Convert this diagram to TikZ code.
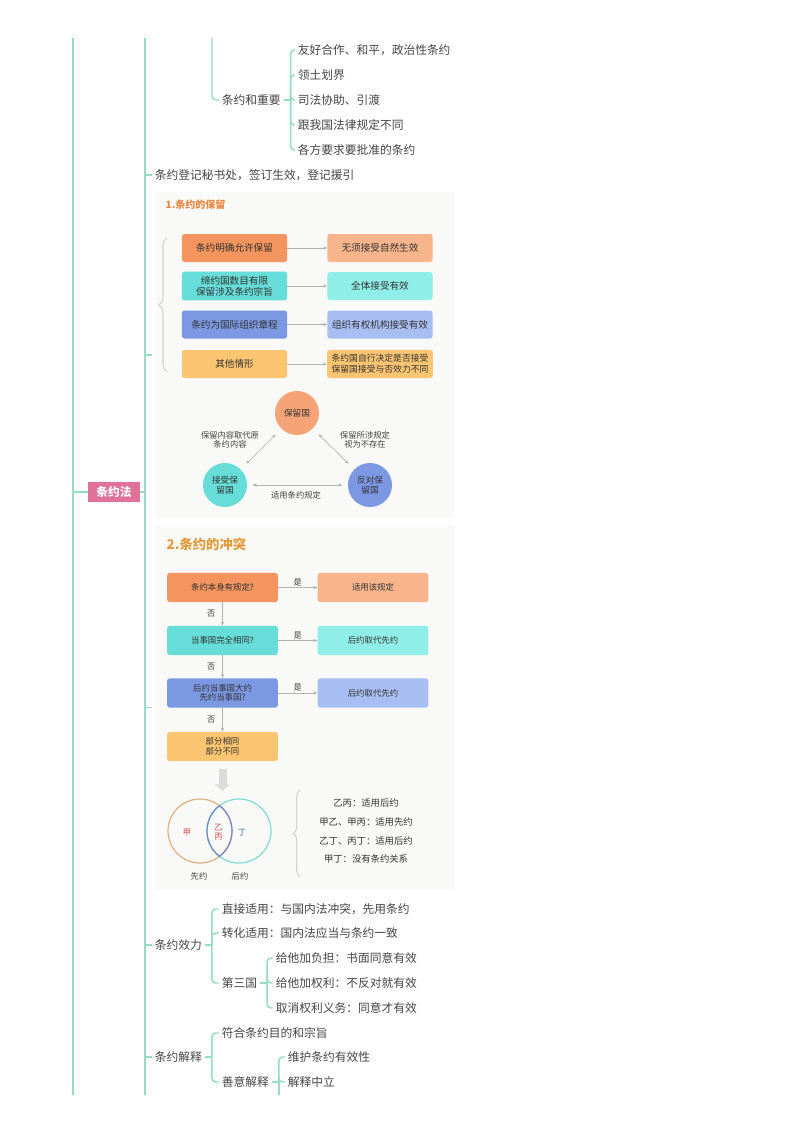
\documentclass[tikz,border=0pt]{standalone}
\usepackage{fontspec}
\setmainfont{Noto Sans CJK SC}
\usetikzlibrary{arrows.meta,positioning,calc,decorations.pathreplacing}

\definecolor{mline}{HTML}{94DCC2}
\definecolor{mtext}{HTML}{454545}
\definecolor{rootpink}{HTML}{E0729A}
\definecolor{orA}{HTML}{F4945F}
\definecolor{orB}{HTML}{F8B58C}
\definecolor{tlA}{HTML}{66DDD8}
\definecolor{tlB}{HTML}{90EEE8}
\definecolor{blA}{HTML}{7D98E2}
\definecolor{blB}{HTML}{A8BEF2}
\definecolor{ylA}{HTML}{FBC571}
\definecolor{picbg}{HTML}{F9F9F8}
\definecolor{ttlA}{HTML}{E8873F}
\definecolor{ttlB}{HTML}{E39A3B}
\definecolor{vnor}{HTML}{E2B07E}
\definecolor{vnte}{HTML}{7EDCD3}
\definecolor{vnbl}{HTML}{6F86C9}
\definecolor{vred}{HTML}{D24B4B}
\definecolor{vblue}{HTML}{3E6FB0}

\begin{document}
\begin{tikzpicture}[x=0.75pt, y=-0.75pt,
    every node/.style={text=mtext},
    link/.style={draw=mline, line width=1.1pt, rounded corners=3pt},
    topic/.style={anchor=west, inner xsep=2pt, inner ysep=1pt, font=\fontsize{8.8}{10}\selectfont},
    root/.style={fill=rootpink, text=white, minimum width=39pt, minimum height=15pt,
      font=\fontsize{8.8}{10}\selectfont\bfseries},
    box/.style={rounded corners=2pt, minimum width=79pt, minimum height=21pt, align=center,
      font=\fontsize{7.2}{8.2}\selectfont, text=black!80},
    fbox/.style={rounded corners=2pt, minimum width=83pt, minimum height=22pt, align=center,
      font=\fontsize{6.3}{7.2}\selectfont, text=black!80},
    ball/.style={circle, minimum size=33pt, inner sep=0pt, align=center,
      font=\fontsize{6.5}{7.4}\selectfont, text=black!80},
    small/.style={align=center, inner sep=1pt, font=\fontsize{6.2}{7.2}\selectfont, text=black!75},
    gar/.style={draw=black!30, line width=0.5pt, -{Stealth[length=3pt,width=2.5pt]}},
    biarr/.style={gar, {Stealth[length=3pt,width=2.5pt]}-{Stealth[length=3pt,width=2.5pt]}},
    curl/.style={draw=black!18, line width=0.8pt, decorate, decoration={brace, amplitude=#1}},
    curl/.default=6pt
  ]
    \fill[white] (0,0) rectangle (800,1132);
    \useasboundingbox (0,0) rectangle (800,1132);

    % trunk lines, cut at both ends
    \coordinate (axT) at (73,38);
    \coordinate (axB) at (73,1095);
    \coordinate (spT) at (145,38);
    \coordinate (spB) at (145,1095);
    \draw[link, line width=1.5pt] (axT) -- (axB);
    \draw[link, line width=1.4pt] (spT) -- (spB);

    \node[root] (law) at (114,492) {条约法};
    \draw[link] (axT |- law.west) -- (law.west);
    \draw[link] (law.east) -- (spT |- law.east);

    % important treaties
    \coordinate (upT) at (212,38);
    \node[topic] (imp) at (219,100) {条约和重要};
    \draw[link] (upT) |- (imp.west);
    \draw[link] (imp.east) -- ++(7,0) coordinate (impJ);
    \foreach \i/\y/\t in {1/50/友好合作、和平，政治性条约, 2/75/领土划界, 3/100/司法协助、引渡,
                          4/125/跟我国法律规定不同, 5/150/各方要求要批准的条约} {
      \node[topic] (imp\i) at (295,\y) {\t};
      \draw[link] (impJ) |- (imp\i.west);
    }

    \node[topic] (reg) at (152,175) {条约登记秘书处，签订生效，登记援引};
    \draw[link] (spT |- reg.west) -- (reg.west);

    % picture 1: reservations
    \node[fill=picbg, minimum width=225pt, minimum height=244.5pt, inner sep=0pt] (pic1) at (305,355) {};
    \draw[link, shorten >=2pt] (spT |- pic1.west) -- (pic1.west);
    \node[anchor=west, text=ttlA, font=\fontsize{7.5}{8}\selectfont\bfseries] (t1) at (161,205) {1.条约的保留};
    \draw[curl] (167,372) -- (167,238);
    \foreach \i/\y/\ca/\cb/\a/\b in {1/248/orA/orB/条约明确允许保留/无须接受自然生效,
        2/286/tlA/tlB/{缔约国数目有限\\保留涉及条约宗旨}/全体接受有效,
        3/324.5/blA/blB/条约为国际组织章程/组织有权机构接受有效,
        4/364/ylA/ylA/其他情形/{\fontsize{6.6}{7.6}\selectfont 条约国自行决定是否接受\\
          \fontsize{6.6}{7.6}\selectfont 保留国接受与否效力不同}} {
      \node[box, fill=\ca] (ra\i) at (234.5,\y) {\a};
      \node[box, fill=\cb] (rb\i) at (380,\y) {\b};
      \draw[gar] (ra\i) -- (rb\i);
    }

    \node[ball, fill=orA!85] (rs) at (297,413) {保留国};
    \node[ball, fill=tlA] (ac) at (225,485) {接受保\\留国};
    \node[ball, fill=blA] (ob) at (370,485) {反对保\\留国};
    \draw[biarr, shorten <=6pt, shorten >=6pt] (rs) -- (ac);
    \draw[biarr, shorten <=6pt, shorten >=6pt] (rs) -- (ob);
    \draw[biarr, shorten <=4pt, shorten >=4pt] (ac) -- (ob);
    \node[small] (l1) at (230,440) {保留内容取代原\\条约内容};
    \node[small] (l2) at (365,440) {保留所涉规定\\视为不存在};
    \node[small] (l3) at (296,495) {适用条约规定};

    % picture 2: conflicts
    \node[fill=picbg, minimum width=225pt, minimum height=273.75pt, inner sep=0pt] (pic2) at (305,707.5) {};
    \draw[link, shorten >=2pt] (spT |- pic2.west) -- (pic2.west);
    \node[anchor=west, text=ttlB, font=\fontsize{10}{11}\selectfont\bfseries] (t2) at (162,544) {2.条约的冲突};
    \foreach \i/\y/\c/\t in {1/587.5/orA/条约本身有规定?, 2/640.5/tlA/当事国完全相同?,
        3/693/blA/{后约当事国大约\\先约当事国?}, 4/746.5/ylA/{部分相同\\部分不同}} {
      \node[fbox, fill=\c] (q\i) at (222.5,\y) {\t};
    }
    \foreach \i/\y/\c/\t in {1/587.5/orB/适用该规定, 2/640.5/tlB/后约取代先约, 3/693/blB/后约取代先约} {
      \node[fbox, fill=\c] (a\i) at (373,\y) {\t};
      \draw[gar] (q\i) -- node[small, above] (y\i) {是} (a\i);
    }
    \foreach \i/\j in {1/2, 2/3, 3/4} {
      \draw[gar] (q\i) -- node[small, left=4pt] (n\i) {否} (q\j);
    }
    \coordinate (vn) at (222.5,791);
    \draw[draw=black!14, line width=6pt, shorten <=6pt, -{Triangle[length=5pt,width=11pt]}] (q4) -- (vn);

    \node[circle, draw=vnor, line width=0.9pt, minimum size=48pt] (vl) at (200,831) {};
    \node[circle, draw=vnte, line width=0.9pt, minimum size=48pt] (vr) at (239,831) {};
    \begin{scope}
      \clip (vr.center) circle[radius=24.4pt];
      \draw[vnbl, line width=0.9pt] (vl.center) circle[radius=24pt];
    \end{scope}
    \begin{scope}
      \clip (vl.center) circle[radius=24.4pt];
      \draw[vnbl, line width=0.9pt] (vr.center) circle[radius=24pt];
    \end{scope}
    \node[small, text=vred] (jia) at (187,833) {甲};
    \node[small, text=vred] (yb) at (218.5,832) {乙\\丙};
    \node[small, text=vblue] (ding) at (242,833) {丁};
    \node[small] (xy) at (199,876) {先约};
    \node[small] (hy) at (240,876) {后约};

    \draw[curl=5pt] (300,877) -- (300,790);
    \foreach \i/\y/\t in {1/803/乙丙：适用后约, 2/822/甲乙、甲丙：适用先约,
                          3/841/乙丁、丙丁：适用后约, 4/859/甲丁：没有条约关系} {
      \node[font=\fontsize{7}{8}\selectfont, text=black!80] (r\i) at (366,\y) {\t};
    }

    % effect
    \node[topic] (eff) at (152,945) {条约效力};
    \draw[link] (spT |- eff.west) -- (eff.west);
    \draw[link] (eff.east) -- ++(7,0) coordinate (effJ);
    \foreach \i/\y/\t in {1/909/直接适用：与国内法冲突，先用条约, 2/933/转化适用：国内法应当与条约一致, 3/983/第三国} {
      \node[topic] (eff\i) at (219,\y) {\t};
      \draw[link] (effJ) |- (eff\i.west);
    }
    \draw[link] (eff3.east) -- ++(7,0) coordinate (thJ);
    \foreach \i/\y/\t in {1/958/给他加负担：书面同意有效, 2/983/给他加权利：不反对就有效, 3/1008/取消权利义务：同意才有效} {
      \node[topic] (th\i) at (273,\y) {\t};
      \draw[link] (thJ) |- (th\i.west);
    }

    % interpretation
    \node[topic] (itp) at (152,1057) {条约解释};
    \draw[link] (spT |- itp.west) -- (itp.west);
    \draw[link] (itp.east) -- ++(7,0) coordinate (itpJ);
    \node[topic] (itp1) at (219,1033) {符合条约目的和宗旨};
    \node[topic] (itp2) at (219,1082) {善意解释};
    \foreach \n in {itp1, itp2} {
      \draw[link] (itpJ) |- (\n.west);
    }
    \draw[link] (itp2.east) -- ++(7,0) coordinate (gfJ);
    \node[topic] (gf1) at (285,1057) {维护条约有效性};
    \node[topic] (gf2) at (285,1082) {解释中立};
    \foreach \n in {gf1, gf2} {
      \draw[link] (gfJ) |- (\n.west);
    }
    \draw[link] (gfJ) -- (gfJ |- spB);
  \end{tikzpicture}
\end{document}
